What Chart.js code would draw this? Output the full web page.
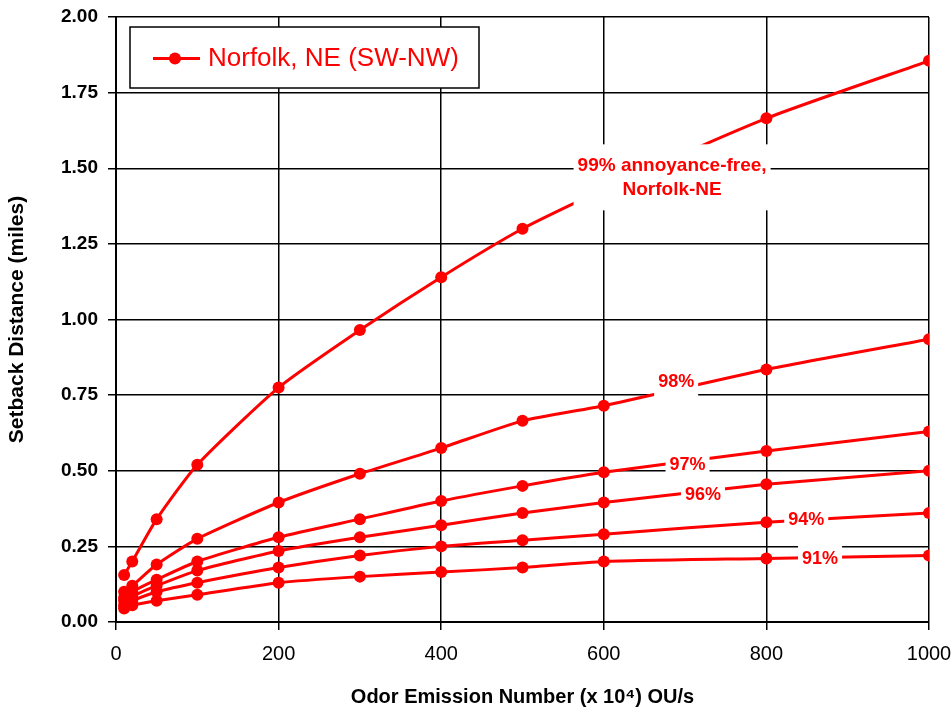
<!DOCTYPE html>
<html>
<head>
<meta charset="utf-8">
<script src="https://cdn.jsdelivr.net/npm/chart.js@4.4.1/dist/chart.umd.min.js"></script>
<style>
  html, body { margin: 0; padding: 0; background: #fff; }
  #wrap { width: 952px; height: 710px; }
</style>
</head>
<body>
<div id="wrap"><canvas id="setbackChart" width="952" height="710"></canvas></div>
<script>
// odor emission numbers (x 10^4 OU/s)
var emission = [10, 20, 50, 100, 200, 300, 400, 500, 600, 800, 1000];

// setback distance in miles for each annoyance-free level
var free99 = [0.155, 0.20, 0.34, 0.52, 0.775, 0.965, 1.14, 1.30, 1.43, 1.665, 1.855];
var free98 = [0.10, 0.12, 0.19, 0.275, 0.395, 0.49, 0.575, 0.665, 0.715, 0.835, 0.935];
var free97 = [0.08, 0.10, 0.14, 0.20, 0.28, 0.34, 0.40, 0.45, 0.495, 0.565, 0.63];
var free96 = [0.07, 0.085, 0.12, 0.17, 0.235, 0.28, 0.32, 0.36, 0.395, 0.455, 0.50];
var free94 = [0.055, 0.07, 0.10, 0.13, 0.18, 0.22, 0.25, 0.27, 0.29, 0.33, 0.36];
var free91 = [0.045, 0.055, 0.07, 0.09, 0.13, 0.15, 0.165, 0.18, 0.20, 0.21, 0.22];

var legendText = 'Norfolk, NE (SW-NW)';
var curveNames = [['99% annoyance-free,', 'Norfolk-NE'], ['98%'], ['97%'], ['96%'], ['94%'], ['91%']];
// where each curve name sits (data units)
var nameX = [684, 689, 703, 722, 849, 866];
var nameY = [1.47, 0.793, 0.519, 0.42, 0.337, 0.208];

function toPoints(ys) {
    return emission.map(function (x, i) { return {x: x, y: ys[i]}; });
}

function serie(label, ys) {
    return {
        label: label,
        data: toPoints(ys),
        borderColor: '#ff0000',
        backgroundColor: '#ff0000',
        borderWidth: 3,
        pointRadius: 6,
        pointHoverRadius: 6,
        pointBorderWidth: 0,
        tension: 0.2
    };
}

// white boxed labels on top of the curves
var curveLabels = {
    id: 'curveLabels',
    afterDatasetsDraw: function (chart) {
        var ctx = chart.ctx;
        var xs = chart.scales.x, ys = chart.scales.y;
        ctx.save();
        ctx.textAlign = 'center';
        ctx.textBaseline = 'middle';
        for (var i = 0; i < curveNames.length; i++) {
            var lines = curveNames[i];
            var big = lines.length > 1;
            ctx.font = 'bold ' + (big ? 19 : 18) + 'px "Liberation Sans", Arial, sans-serif';
            var cx = xs.getPixelForValue(nameX[i]);
            var cy = ys.getPixelForValue(nameY[i]);
            var lh = 24;
            var w = 0;
            lines.forEach(function (t) { w = Math.max(w, ctx.measureText(t).width); });
            var h = lh * lines.length;
            var padX = 4, padY = big ? 9 : 2;
            ctx.fillStyle = '#fff';
            ctx.fillRect(cx - w / 2 - padX, cy - h / 2 - padY, w + 2 * padX, h + 2 * padY);
            ctx.fillStyle = '#ff0000';
            lines.forEach(function (t, k) {
                ctx.fillText(t, cx, cy - h / 2 + lh * (k + 0.5));
            });
        }
        ctx.restore();
    }
};

// legend box in the upper left corner
var boxLegend = {
    id: 'boxLegend',
    afterDraw: function (chart) {
        var ctx = chart.ctx;
        var left = chart.chartArea.left + 14, top = chart.chartArea.top + 10;
        var w = 349, h = 61;
        ctx.save();
        ctx.fillStyle = '#fff';
        ctx.fillRect(left, top, w, h);
        ctx.strokeStyle = '#000';
        ctx.lineWidth = 1.5;
        ctx.strokeRect(left, top, w, h);
        var my = top + h / 2 + 1;
        ctx.strokeStyle = '#ff0000';
        ctx.lineWidth = 3;
        ctx.beginPath();
        ctx.moveTo(left + 23, my);
        ctx.lineTo(left + 70, my);
        ctx.stroke();
        ctx.fillStyle = '#ff0000';
        ctx.beginPath();
        ctx.arc(left + 45, my, 6, 0, Math.PI * 2);
        ctx.fill();
        ctx.font = '26px "Liberation Sans", Arial, sans-serif';
        ctx.textBaseline = 'middle';
        ctx.textAlign = 'left';
        ctx.fillText(legendText, left + 78, my);
        ctx.restore();
    }
};

var setbackCtx = document.getElementById('setbackChart');

var config = {
    type: 'line',
    data: {
        datasets: [
            serie(legendText, free99),
            serie('98%', free98),
            serie('97%', free97),
            serie('96%', free96),
            serie('94%', free94),
            serie('91%', free91)
        ]
    },
    options: {
        responsive: false,
        animation: false,
        layout: { padding: { top: 17, right: 23, left: 0, bottom: 0 } },
        plugins: {
            legend: { display: false },
            tooltip: { enabled: false }
        },
        scales: {
            x: {
                type: 'linear',
                min: 0,
                max: 1000,
                afterFit: function (s) { s.height = 88; s.paddingLeft = 0; s.paddingRight = 0; },
                ticks: {
                    stepSize: 200,
                    padding: 12,
                    color: '#000',
                    callback: function (v) { return String(v); },
                    font: { family: '"Liberation Sans", Arial', size: 20 }
                },
                grid: { color: '#000', lineWidth: 1.5, tickLength: 8, tickColor: '#000' },
                border: { color: '#000', width: 2 },
                title: {
                    display: true,
                    text: 'Odor Emission Number (x 10\u2074) OU/s',
                    color: '#000',
                    padding: { top: 0, bottom: 1 },
                    font: { family: '"Liberation Sans", Arial', size: 20, weight: 'bold' }
                }
            },
            y: {
                min: 0,
                max: 2,
                afterFit: function (s) { s.width = 116; s.paddingTop = 0; s.paddingBottom = 0; },
                ticks: {
                    stepSize: 0.25,
                    padding: 10,
                    color: '#000',
                    callback: function (v) { return v.toFixed(2); },
                    font: { family: '"Liberation Sans", Arial', size: 19, weight: 'bold' }
                },
                grid: { color: '#000', lineWidth: 1.5, tickLength: 8, tickColor: '#000' },
                border: { color: '#000', width: 2 },
                title: {
                    display: true,
                    text: 'Setback Distance (miles)',
                    color: '#000',
                    padding: { top: 5, bottom: 0 },
                    font: { family: '"Liberation Sans", Arial', size: 21, weight: 'bold' }
                }
            }
        }
    },
    plugins: [curveLabels, boxLegend]
};

window.myChart = new Chart(setbackCtx, config);
</script>
</body>
</html>
